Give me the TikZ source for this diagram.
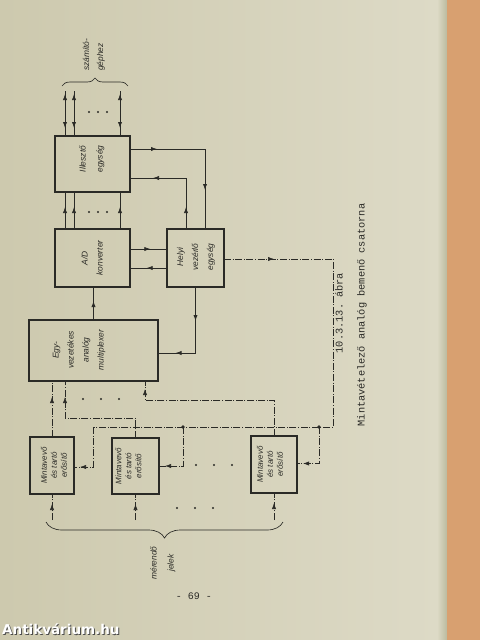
\documentclass[tikz,border=0pt]{standalone}
\usepackage{fontspec}
\setsansfont{Liberation Sans}
\setmonofont{Liberation Mono}
\newfontfamily\wmfont{DejaVu Sans}
\usetikzlibrary{arrows.meta,calc,decorations.markings,decorations.pathreplacing}
\definecolor{paperL}{RGB}{205,201,174}
\definecolor{paperR}{RGB}{221,218,198}
\definecolor{edgec}{RGB}{186,186,158}
\definecolor{cover}{RGB}{216,160,112}
\definecolor{ink}{RGB}{42,42,38}
\begin{document}
\begin{tikzpicture}[x=1pt,y=-1pt,
  box/.style={draw=ink, line width=1.4pt, inner sep=0pt, outer sep=0pt},
  lbl/.style={rotate=90, align=center, text=ink, font=\sffamily\itshape\fontsize{8.4}{15}\selectfont, inner sep=0pt},
  lblm/.style={lbl, font=\sffamily\itshape\fontsize{8}{10}\selectfont},
  conn/.style={draw=ink, line width=0.75pt},
  dd/.style={conn, line width=0.65pt, dash pattern=on 7pt off 1.6pt on 1pt off 1.6pt},
  am/.style={postaction={decorate,decoration={markings,mark=at position #1 with {\arrow{Latex[length=6pt,width=4.2pt]}}}}},
  amr/.style={postaction={decorate,decoration={markings,mark=at position #1 with {\arrowreversed{Latex[length=6pt,width=4.2pt]}}}}},
  capt/.style={rotate=90, text=ink, font=\ttfamily\fontsize{10.3}{12}\selectfont, inner sep=0pt}
]
% background
\useasboundingbox (0,0) rectangle (480,640);
\shade[left color=paperL, right color=paperR] (0,0) rectangle (437,640);
\shade[left color=paperR, right color=edgec] (437,0) rectangle (447,640);
\fill[cover] (447,0) rectangle (480,640);

% boxes
\node[box, minimum width=75, minimum height=56] (ill) at (92.5,164) {};
\node[box, minimum width=75, minimum height=58] (ad) at (92.5,258) {};
\node[box, minimum width=57, minimum height=58] (hely) at (195.5,258) {};
\node[box, minimum width=129, minimum height=61] (mux) at (93.5,350.5) {};
\node[box, minimum width=44, minimum height=57] (m1) at (52,465.5) {};
\node[box, minimum width=47, minimum height=56] (m2) at (135.5,466) {};
\node[box, minimum width=46, minimum height=57] (m3) at (274,464.5) {};

% labels
\node[lbl, font=\sffamily\itshape\fontsize{8.4}{17}\selectfont] (illt) at (92,159) {Illesztő\\egység};
\node[lbl] (adt) at (92,258) {A/D\\konverter};
\node[lbl] (helyt) at (196,257) {Helyi\\vezérlő\\egység};
\node[lbl] (muxt) at (79,350) {Egy-\\vezetékes\\analóg\\multiplexer};
\node[lblm] (m1t) at (54,465.5) {Mintavevő\\és tartó\\erősítő};
\node[lblm] (m2t) at (128.5,466) {Mintavevő\\és tartó\\erősítő};
\node[lblm] (m3t) at (270,464.5) {Mintavevő\\és tartó\\erősítő};

% computer side bidirectional lines
\foreach \dx in {10,19,65} {
  \draw[conn, amr=3pt, am=-8pt] ($(ill.north west)+(\dx,-45)$) -- ($(ill.north west)+(\dx,0)$);
  \draw[conn, am=22pt] ($(ad.north west)+(\dx,0)$) -- ($(ill.south west)+(\dx,0)$);
}
\foreach \x in {89,98,107} {
  \fill[ink] (\x,112) circle (1.2);
  \fill[ink] (\x,212) circle (1.2);
}
\draw[ink, line width=0.65pt, decorate, decoration={brace, amplitude=8pt}] (62,86) coordinate (tbl) -- (128,86) coordinate (tbr);
\node[lbl, anchor=west, align=left, font=\sffamily\itshape\fontsize{8.4}{14}\selectfont] (gep) at (94,71) {számító-\\géphez};

% A/D <-> Helyi
\draw[conn, am=0.55] ($(ad.east)+(0,-9)$) -- ($(hely.west)+(0,-9)$);
\draw[conn, am=0.55] ($(hely.west)+(0,10)$) -- ($(ad.east)+(0,10)$);
% Helyi <-> Illeszto
\draw[conn, am=22pt, am=84pt] ($(hely.north)+(-9.5,0)$) |- ($(ill.east)+(0,14)$);
\draw[conn, am=27pt, am=116pt] ($(ill.east)+(0,-15)$) -| ($(hely.north)+(9.5,0)$);
% mux -> A/D
\draw[conn, am=19pt] (mux.north) -- (mux.north |- ad.south);
% Helyi -> mux
\draw[conn, am=34pt, am=86pt] (hely.south) |- ($(mux.east)+(0,2.5)$);

% control bus
\coordinate (c1) at (333,427);
\coordinate (b1) at (93,427);
\coordinate (j2) at (183,427);
\coordinate (j3) at (319,427);
\draw[dd, am=50pt] ($(hely.east)+(0,1)$) -| (c1) -- (b1);
\draw[dd, am=-6pt] (b1) |- ($(m1.east)+(0,1.5)$);
\draw[dd, am=-6pt] (j2) |- (m2.east);
\draw[dd, am=-6pt] (j3) |- ($(m3.east)+(0,-1)$);
\fill[ink] (j2) circle (1.8);
\fill[ink] (j3) circle (1.8);

% sample-hold outputs to mux
\draw[dd, am=40pt] (m1.north) -- (m1.north |- mux.south);
\draw[dd, am=-16pt] (m2.north) |- ($(mux.south west)+(36,37)$) -- ($(mux.south west)+(36,0)$);
\draw[dd, am=-8pt] (m3.north) |- ($(mux.south west)+(116,19)$) -- ($(mux.south west)+(116,0)$);
\foreach \x in {83,101,119} \fill[ink] (\x,399) circle (1.2);

% inputs
\draw[dd, am=-10pt] ($(m1.south)+(0,26)$) -- (m1.south);
\draw[dd, am=-10pt] ($(m2.south)+(0,26)$) -- (m2.south);
\draw[dd, am=-10pt] ($(m3.south)+(0,27)$) -- (m3.south);
\foreach \x in {196,214,232} \fill[ink] (\x,465) circle (1.2);
\foreach \x in {177,195,213} \fill[ink] (\x,508) circle (1.2);
\draw[ink, line width=0.65pt, decorate, decoration={brace, mirror, amplitude=16pt}] (46,522) coordinate (bbl) -- (283,522) coordinate (bbr);
\node[lbl, font=\sffamily\itshape\fontsize{8.4}{17}\selectfont] (jel) at (163,563) {mérendő\\jelek};

% caption
\node[capt] (cap1) at (339,313) {10.3.13. ábra};
\node[capt] (cap2) at (362,315) {Mintavételező analóg bemenő csatorna};
% page number
\node[text=ink, font=\ttfamily\fontsize{10}{12}\selectfont, inner sep=0pt] (pg) at (194,596) {- 69 -};
% watermark
\node[text=black!70, font=\wmfont\bfseries\fontsize{13.5}{15}\selectfont, inner sep=0pt, anchor=west] (wms) at (3,630.5) {Antikvárium.hu};
\node[text=white, font=\wmfont\bfseries\fontsize{13.5}{15}\selectfont, inner sep=0pt, anchor=west] (wm) at (2,629) {Antikvárium.hu};
\end{tikzpicture}
\end{document}
